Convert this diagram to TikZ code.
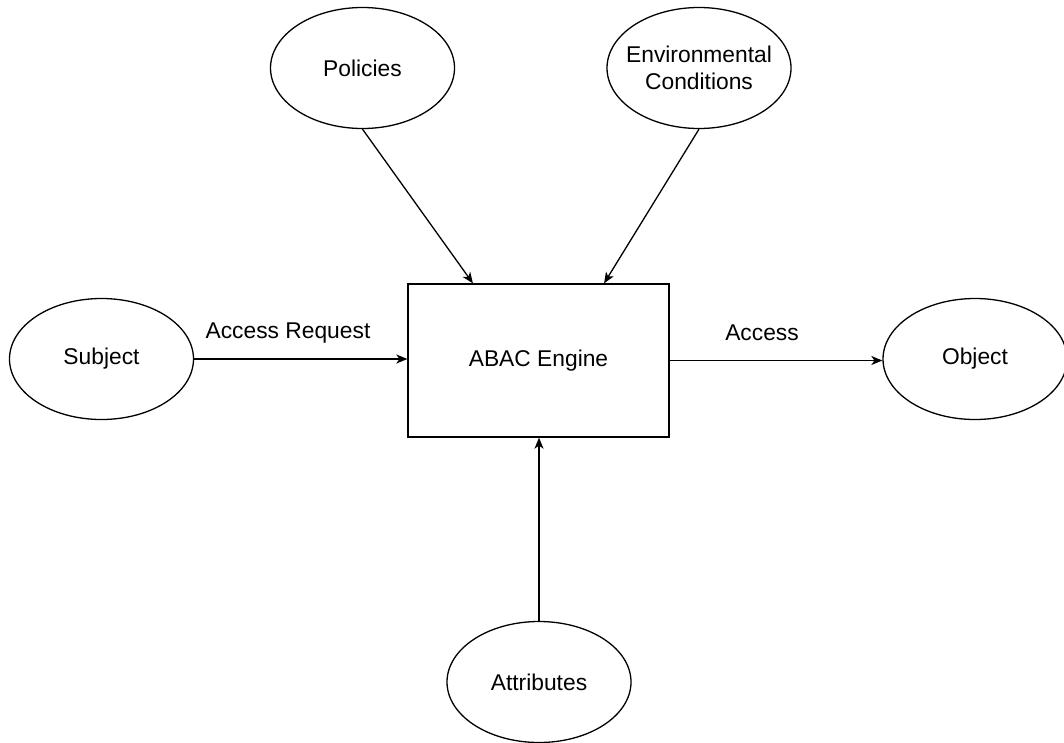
\documentclass[tikz,border=0pt]{standalone}
\usepackage{fontspec}
\setmainfont{Liberation Sans}
\usetikzlibrary{shapes.geometric,arrows.meta,calc}
\begin{document}
\begin{tikzpicture}[x=1pt,y=-1pt,
  every node/.style={font=\fontsize{22.8}{27}\selectfont},
  oval/.style={draw, line width=1.3pt, ellipse, minimum width=184pt, minimum height=121pt, inner sep=0pt, align=center},
  engine/.style={draw, line width=1.3pt, rectangle, minimum width=261pt, minimum height=153pt, inner sep=0pt},
  link/.style={line width=1.3pt, -{Stealth[length=11pt,width=9pt,inset=3pt]}},
  lbl/.style={inner sep=0pt}
]
\useasboundingbox (0,0) rectangle (1064,742);

% ellipses around the central engine
\node[oval] (pol) at (362.5,68) {Policies};
\node[oval, inner xsep=-12pt] (env) at (699,68) {Environmental\\Conditions};
\node[oval] (sub) at (101.5,359) {Subject};
\node[oval] (obj) at (975,359) {Object};
\node[oval] (att) at (539,682) {Attributes};

% central box
\node[engine] (eng) at (538.5,360.5) {ABAC Engine};

% connection points on the box top
\coordinate (engL) at ($(eng.north west)!0.25!(eng.north east)$);
\coordinate (engR) at ($(eng.north west)!0.75!(eng.north east)$);

\draw[link] (pol.south) -- (engL);
\draw[link] (env.south) -- (engR);
\draw[link] (sub.east) -- (sub.east -| eng.west);
\draw[link] (eng.east) -- (eng.east -| obj.west);
\draw[link] (att.north) -- (att.north |- eng.south);

% edge labels
\node[lbl] (lreq) at (288,333) {Access Request};
\node[lbl] (lacc) at (762,333) {Access};
\end{tikzpicture}
\end{document}
